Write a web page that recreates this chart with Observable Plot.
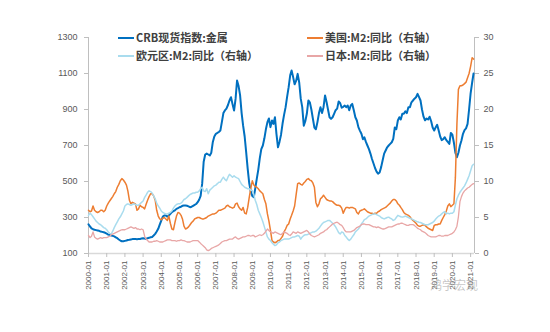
<!DOCTYPE html>
<html><head><meta charset="utf-8">
<script src="https://cdn.jsdelivr.net/npm/d3@7"></script>
<script src="https://cdn.jsdelivr.net/npm/@observablehq/plot@0.6"></script>
<style>
body{margin:0;background:#fff;}
#wrap{position:relative;width:550px;height:332px;overflow:hidden;}
.leg{position:absolute;font-family:"Noto Sans CJK SC",sans-serif;font-size:11px;font-weight:bold;color:#404040;white-space:nowrap;line-height:14px;}
.leg i{display:inline-block;width:16px;height:2px;vertical-align:middle;margin-right:2px;position:relative;top:-1px;}
.wm{position:absolute;left:430px;top:276px;font-family:"Noto Sans CJK SC",sans-serif;font-size:12px;color:rgba(150,150,150,0.55);}
</style></head><body><div id="wrap"></div>
<script>
const startYear = 2000;
const seriesNames = ["CRB现货指数:金属", "美国:M2:同比（右轴）", "欧元区:M2:同比（右轴）", "日本:M2:同比（右轴）"];
const leftTicks = [100, 300, 500, 700, 900, 1100, 1300];
const rightTicks = [0, 5, 10, 15, 20, 25, 30];

// CRB spot index: metals (left axis), monthly 2000-01 .. 2021-03
const crb = [
 262,250,240,235,232,230,228,226,222,220,218,215,
 210,205,203,200,198,195,190,185,178,172,168,168,
 170,172,175,176,178,180,181,180,179,180,181,183,
 185,183,181,185,187,190,192,200,209,222,237,260,
 283,305,311,311,305,311,320,330,335,340,348,352,
 357,360,365,367,367,365,362,357,360,365,370,375,
 385,400,420,488,610,650,655,650,645,660,720,750,
 765,770,775,783,830,880,895,905,925,950,968,930,
 894,960,1061,1030,980,880,810,750,660,570,490,445,
 420,413,460,515,565,630,680,700,740,790,830,850,
 802,839,820,857,765,690,720,760,822,870,913,970,
 1024,1090,1117,1080,1040,1060,1098,1050,960,913,810,835,
 876,950,940,900,850,800,790,830,880,913,880,913,
 978,940,900,857,848,857,876,896,905,945,935,910,
 915,922,913,922,896,922,931,896,857,839,802,783,
 765,735,746,720,700,680,655,625,600,575,555,543,
 550,580,617,655,672,690,700,709,718,737,800,790,
 839,857,845,876,876,890,880,913,913,940,950,960,
 968,987,970,950,900,860,840,850,845,860,835,800,
 783,802,815,783,750,730,735,746,730,720,709,770,
 760,715,660,635,660,700,728,765,785,795,820,900,
 990,1050,1100
];
// US M2 yoy % (right axis)
const usM2 = [
 6.0,5.8,5.9,6.6,6.0,5.8,5.7,5.8,6.0,6.0,5.8,6.0,
 6.6,7.0,7.3,7.6,7.9,8.3,8.6,9.2,9.6,10.1,10.4,10.2,
 9.9,9.5,8.7,7.4,6.9,7.1,7.0,6.9,6.0,6.2,6.7,6.5,
 6.4,6.2,6.8,7.4,7.9,8.3,8.3,8.0,7.4,6.0,5.2,4.8,
 4.7,4.9,5.0,4.8,4.6,5.2,4.2,3.4,3.3,4.3,5.2,5.7,
 5.6,5.3,4.8,3.8,3.4,3.5,3.7,4.0,4.3,4.5,4.8,4.9,
 5.0,5.0,4.9,4.8,4.8,4.9,5.0,5.2,5.3,5.4,5.5,5.5,
 5.6,5.8,6.0,6.0,6.1,6.2,6.3,6.6,6.7,6.5,6.4,6.3,
 6.4,6.9,7.0,6.5,6.2,6.0,6.4,5.6,5.5,6.4,7.8,9.0,
 10.1,9.5,9.3,9.2,9.0,8.7,8.5,8.3,7.5,6.9,5.5,4.5,
 3.2,1.8,1.6,1.5,1.6,1.8,1.8,2.1,2.4,3.0,3.4,3.9,
 4.1,4.8,5.3,5.9,6.6,8.2,9.7,9.8,9.6,9.5,9.8,10.0,
 10.3,10.4,10.2,10.1,9.8,9.2,7.1,6.5,6.9,7.6,7.8,8.1,
 7.8,7.5,7.4,7.3,7.3,7.2,7.0,6.8,6.7,6.7,6.6,6.3,
 5.6,6.1,6.4,6.4,6.3,6.4,6.4,6.3,6.2,5.7,5.5,5.9,
 6.0,6.1,6.2,6.0,5.8,5.7,5.6,5.6,5.5,5.6,5.6,5.8,
 5.9,6.1,6.2,6.3,6.4,6.6,6.8,7.0,7.3,7.5,7.5,7.3,
 6.9,6.7,6.4,6.1,5.7,5.5,5.4,5.3,5.1,4.8,4.6,4.4,
 4.2,3.9,3.8,3.8,3.9,4.0,3.9,3.7,3.5,3.4,3.3,3.2,
 3.9,4.0,4.0,4.1,4.1,4.6,5.0,5.4,5.9,6.6,6.9,6.5,
 6.7,6.9,10.5,18.0,22.8,23.3,23.3,23.4,23.6,23.8,24.4,25.0,
 26.0,27.2,27.0
];
// Euro area M2 yoy % (right axis)
const euM2 = [
 5.3,5.6,5.4,5.1,4.8,4.5,4.3,4.1,4.0,3.8,3.6,3.5,
 3.3,3.0,2.8,2.7,3.1,3.6,4.0,4.4,4.8,5.1,5.5,5.9,
 6.6,6.8,6.9,6.8,6.7,6.8,6.9,6.8,6.7,6.7,6.9,7.1,
 7.3,7.8,8.1,8.5,8.7,8.6,8.4,8.0,7.6,7.0,6.6,6.3,
 5.9,5.7,5.6,5.5,5.5,5.6,5.7,5.9,6.3,6.6,6.8,6.9,
 6.9,7.0,7.2,7.5,7.6,7.8,8.0,8.2,8.3,8.4,8.4,8.5,
 8.5,8.7,9.0,9.2,8.7,8.6,9.0,8.3,8.8,9.0,9.2,9.4,
 9.5,9.7,9.9,9.9,10.3,10.6,10.3,10.1,10.6,11.0,10.8,10.6,
 10.8,10.6,10.5,10.4,10.0,9.6,9.4,9.2,9.1,9.0,9.0,8.8,
 8.75,8.2,7.4,6.8,6.0,5.5,5.0,4.4,3.7,3.0,2.3,2.0,
 1.8,1.5,1.3,1.1,1.2,1.5,1.6,1.8,1.9,2.0,2.0,2.0,
 2.0,2.1,2.2,2.3,2.3,2.4,2.5,2.4,2.0,2.3,2.5,2.6,
 2.6,2.7,2.8,2.9,3.0,3.0,3.1,3.3,3.5,3.8,4.1,4.3,
 4.4,4.5,4.6,4.6,4.4,4.2,4.0,3.7,3.3,2.9,2.7,3.0,
 2.9,2.5,2.3,2.0,1.8,2.0,2.3,2.6,3.0,3.2,3.4,3.7,
 4.1,4.4,4.7,4.8,5.0,5.2,5.3,5.4,5.5,5.5,5.4,5.3,
 5.2,5.0,4.9,4.8,4.9,5.0,5.05,4.9,4.8,4.6,4.7,5.0,
 5.3,5.2,5.1,5.05,5.1,5.2,5.1,5.0,4.9,4.8,4.7,4.6,
 4.5,4.4,4.35,4.3,4.2,4.1,4.0,4.0,4.0,4.1,4.2,4.3,
 4.5,4.8,5.0,5.2,5.3,5.5,5.7,5.8,5.5,5.6,5.5,5.6,
 5.6,5.8,6.7,7.6,8.1,8.5,8.8,9.1,9.4,9.8,10.3,10.8,
 11.5,12.2,12.4
];
// Japan M2 yoy % (right axis)
const jpM2 = [
 2.5,2.2,2.4,3.0,2.3,2.1,2.0,2.1,2.2,2.1,2.2,2.2,
 2.2,2.3,2.4,2.6,2.7,2.8,2.9,3.0,3.1,3.2,3.3,3.3,
 3.3,3.4,3.5,3.6,3.7,3.6,3.5,3.6,3.4,3.4,3.3,3.4,
 3.3,2.4,2.0,1.8,1.6,1.6,1.6,1.7,1.7,1.8,1.7,1.6,
 1.6,1.6,1.7,1.8,1.9,1.9,1.9,1.8,1.8,1.8,1.7,1.8,
 1.8,1.9,1.8,1.8,1.7,1.6,1.6,1.6,1.7,1.8,1.8,1.8,
 1.8,1.6,1.4,1.2,1.0,0.8,0.5,0.4,0.5,0.7,0.8,0.9,
 1.0,1.1,1.2,1.4,1.6,1.7,1.8,1.8,1.9,2.0,2.0,2.0,
 2.2,2.3,2.1,2.0,2.1,2.2,2.3,2.3,2.4,2.5,2.5,2.4,
 2.5,2.5,2.3,2.4,2.5,2.6,2.5,2.6,2.8,3.1,3.4,3.2,
 3.0,2.9,2.8,3.0,2.9,2.8,2.7,2.6,2.8,3.0,2.9,2.8,
 2.6,2.5,2.7,3.0,2.9,2.8,3.0,2.9,2.8,2.9,3.0,3.1,
 3.2,3.0,2.7,2.5,2.4,2.3,2.4,2.5,2.6,2.8,2.9,3.0,
 3.2,3.3,3.5,3.7,3.9,4.1,4.2,4.3,4.35,4.2,4.0,3.9,
 3.6,3.2,3.0,3.0,3.0,3.0,3.1,3.2,3.4,3.6,3.7,3.8,
 4.0,4.1,4.1,4.0,4.0,4.0,3.9,3.8,3.7,3.7,3.6,3.7,
 3.6,3.5,3.4,3.4,3.5,3.6,3.7,3.7,3.7,3.8,3.9,4.0,
 4.1,4.1,4.2,4.2,4.1,4.0,3.9,3.9,4.0,4.0,4.0,3.9,
 3.7,3.5,3.4,3.3,3.1,3.0,2.9,2.7,2.5,2.4,2.3,2.3,
 2.3,2.3,2.4,2.5,2.5,2.4,2.4,2.5,2.5,2.5,2.6,2.7,
 2.8,3.0,3.3,3.8,5.1,7.2,7.9,8.4,8.7,8.9,9.1,9.2,
 9.4,9.6,9.7
];
const colors = ["#0070C0", "#ED7D31", "#A9DCEE", "#E8A6A6"];

// map right-axis values onto the left scale (0..30 -> 100..1300)
const toLeft = r => 100 + r * 40;
const months = crb.map((_, i) => new Date(Date.UTC(startYear, i, 1)));
const rows = [];
const add = (arr, k, conv) => arr.forEach((v, i) => rows.push({date: months[i], value: conv ? toLeft(v) : v, s: k}));
add(crb, 0, false); add(usM2, 1, true); add(euM2, 2, true); add(jpM2, 3, true);

const x0 = new Date(Date.UTC(2000, 0, 1)), x1 = new Date(Date.UTC(2021, 2, 20));
const yearTicks = d3.utcYear.range(x0, new Date(Date.UTC(2021, 1, 1)));
const axisColor = "#BFBFBF";

const chart = Plot.plot({
  width: 550, height: 332,
  marginLeft: 88, marginRight: 76, marginTop: 37, marginBottom: 79,
  style: {fontFamily: "'Liberation Sans', Arial, sans-serif", background: "#fff", color: "#595959"},
  x: {type: "utc", domain: [x0, x1]},
  y: {domain: [100, 1300]},
  marks: [
    Plot.ruleY([100], {stroke: "#D9D9D9", strokeWidth: 1.5}),
    Plot.ruleX([x0], {stroke: axisColor}),
    Plot.ruleX([x1], {stroke: axisColor}),
    Plot.axisY({anchor: "left", ticks: leftTicks, tickSize: 4, tickPadding: 7, stroke: axisColor, fill: "#595959", fontSize: 9, label: null, tickFormat: d => String(d)}),
    Plot.axisY({anchor: "right", ticks: rightTicks.map(toLeft), tickSize: 4, tickPadding: 5, stroke: axisColor, fill: "#595959", fontSize: 9, label: null, tickFormat: d => String((d - 100) / 40)}),
    Plot.axisX({ticks: yearTicks, tickFormat: d3.utcFormat("%Y-%m"), tickRotate: -90, tickSize: 4, tickPadding: 3, stroke: axisColor, fill: "#595959", fontSize: 8, label: null}),
    Plot.lineY(rows.filter(d => d.s === 0), {x: "date", y: "value", stroke: colors[0], strokeWidth: 2}),
    Plot.lineY(rows.filter(d => d.s === 1), {x: "date", y: "value", stroke: colors[1], strokeWidth: 1.5}),
    Plot.lineY(rows.filter(d => d.s === 2), {x: "date", y: "value", stroke: colors[2], strokeWidth: 1.5}),
    Plot.lineY(rows.filter(d => d.s === 3), {x: "date", y: "value", stroke: colors[3], strokeWidth: 1.3})
  ]
});
const wrap = document.getElementById("wrap");
wrap.appendChild(chart);

const legPos = [[118, 30], [307, 30], [118, 48], [307, 48]];
seriesNames.forEach((name, k) => {
  const d = document.createElement("div");
  d.className = "leg";
  d.style.left = legPos[k][0] + "px";
  d.style.top = legPos[k][1] + "px";
  d.innerHTML = `<i style="background:${colors[k]}"></i>${name}`;
  wrap.appendChild(d);
});
const wm = document.createElement("div");
wm.className = "wm";
wm.textContent = "鸿学宏观";
wrap.appendChild(wm);
</script>
</body></html>
